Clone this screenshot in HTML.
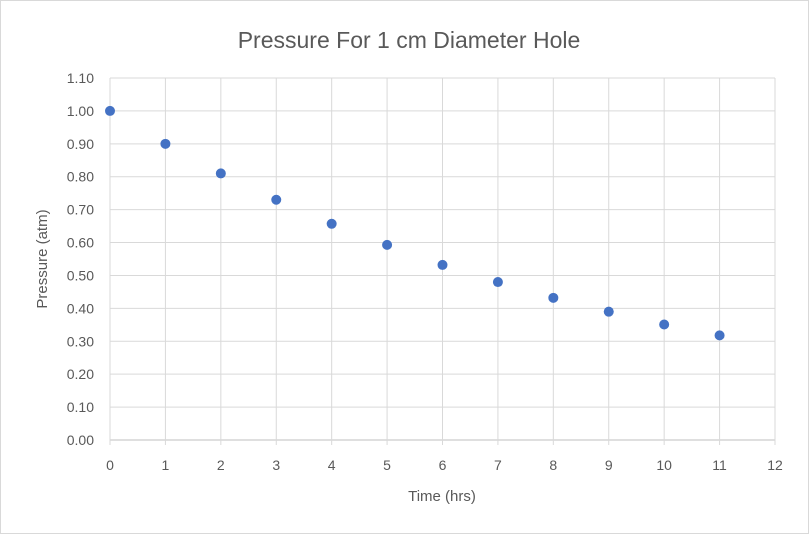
<!DOCTYPE html>
<html><head><meta charset="utf-8"><style>
body{margin:0;background:#fff;}
svg{display:block;font-family:"Liberation Sans",sans-serif;}
</style></head><body>
<svg id="chart" width="810" height="535">
<rect x="0.5" y="0.5" width="808" height="533" fill="#fff" stroke="#d9d9d9"/>
<text x="409" y="48" text-anchor="middle" font-size="23" fill="#595959">Pressure For 1 cm Diameter Hole</text>
<g id="grid"></g><g id="axes"></g><g id="points"></g>
<text x="442" y="501" text-anchor="middle" font-size="15" fill="#595959">Time (hrs)</text>
<text transform="translate(47,259) rotate(-90)" text-anchor="middle" font-size="15" fill="#595959">Pressure (atm)</text>
</svg>
<script>
const times=[0,1,2,3,4,5,6,7,8,9,10,11];
const pressures=[1.00,0.90,0.81,0.73,0.657,0.593,0.532,0.48,0.432,0.39,0.351,0.318];
const xTicks=[0,1,2,3,4,5,6,7,8,9,10,11,12];
const yTicks=[0,0.1,0.2,0.3,0.4,0.5,0.6,0.7,0.8,0.9,1.0,1.1];
const NS="http://www.w3.org/2000/svg";
const X0=110,X1=775,Y0=440,Y1=78;
const xs=v=>X0+(v-0)/(12-0)*(X1-X0);
const ys=v=>Y0-(v-0)/(1.1-0)*(Y0-Y1);
function mk(t,a,p){const e=document.createElementNS(NS,t);for(const k in a)e.setAttribute(k,a[k]);p.appendChild(e);return e;}
const g=document.getElementById('grid'),ax=document.getElementById('axes'),pt=document.getElementById('points');
yTicks.forEach(v=>{
 const l=mk('line',{x1:X0,x2:X1,y1:ys(v),y2:ys(v),stroke:v===0?'#bfbfbf':'#d9d9d9','stroke-width':1},g);
 
 
 const t=mk('text',{x:X0-16,y:ys(v)+5,'text-anchor':'end','font-size':14,fill:'#595959'},ax);
 t.textContent=v.toFixed(2);
 
 
});
xTicks.forEach(v=>{
 const l=mk('line',{x1:xs(v),x2:xs(v),y1:Y1,y2:Y0+5,stroke:'#d9d9d9','stroke-width':1},g);
 
 
 const t=mk('text',{x:xs(v),y:Y0+30,'text-anchor':'middle','font-size':14,fill:'#595959'},ax);
 t.textContent=v;
 
 
});
times.forEach((t,i)=>{
 const c=mk('circle',{cx:xs(t),cy:ys(pressures[i]),r:5,fill:'#4472c4'},pt);
 
 
});
</script>
</body></html>
